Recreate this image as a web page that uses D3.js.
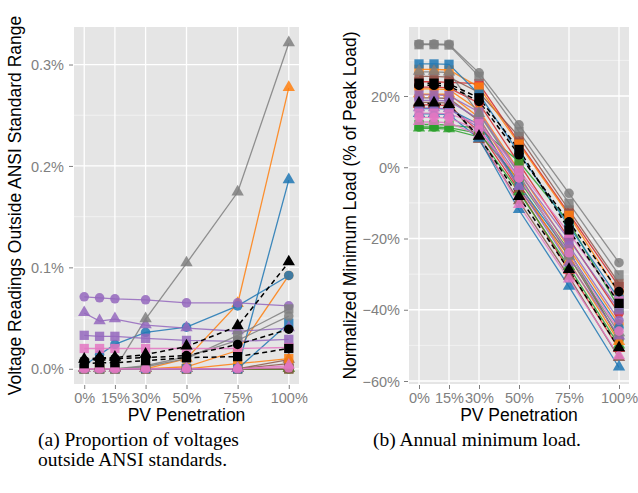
<!DOCTYPE html>
<html>
<head>
<meta charset="utf-8">
<script src="https://cdn.jsdelivr.net/npm/d3@7"></script>
<style>
  html, body { margin: 0; padding: 0; background: #ffffff; }
  svg { display: block; }
  .tick-label { font-family: "Liberation Sans", Arial, sans-serif; font-size: 14.5px; fill: #7f7f7f; }
  .axis-title { font-family: "Liberation Sans", Arial, sans-serif; font-size: 17.5px; fill: #000; }
  .caption { font-family: "Liberation Serif", "Times New Roman", serif; font-size: 19.5px; fill: #000; }
</style>
</head>
<body>
<svg id="chart" width="638" height="493"></svg>
<script>
// PV penetration levels (%) at which every feeder was simulated
const penetration = [0, 7.5, 15, 30, 50, 75, 100];
const xTickValues = [0, 15, 30, 50, 75, 100];
const xTickLabels = ["0%", "15%", "30%", "50%", "75%", "100%"];

// feeder styling: colour family and marker shape per feeder (draw order)
const feederColor = [
  "red", "red", "red",
  "green", "green", "green",
  "brown", "brown", "brown",
  "orange", "orange", "orange",
  "blue", "blue", "blue",
  "purple", "purple", "purple",
  "gray", "gray", "gray",
  "pink", "pink", "pink",
  "black", "black", "black"
];
const feederShape = [
  "circle", "square", "triangle",
  "circle", "square", "triangle",
  "circle", "square", "triangle",
  "circle", "square", "triangle",
  "circle", "square", "triangle",
  "circle", "square", "triangle",
  "circle", "square", "triangle",
  "circle", "square", "triangle",
  "circle", "square", "triangle"
];

// (a) share of voltage readings outside the ANSI range, in %
const ansiOutside = [
  [0, 0, 0, 0, 0, 0, 0],
  [0, 0, 0, 0, 0, 0, 0],
  [0, 0, 0, 0, 0, 0, 0],
  [0, 0, 0, 0, 0, 0, 0],
  [0, 0, 0, 0, 0, 0, 0],
  [0, 0, 0, 0, 0, 0, 0],
  [0, 0, 0, 0, 0, 0, 0.005],
  [0, 0, 0, 0, 0, 0, 0],
  [0, 0, 0, 0, 0, 0, 0.009],
  [0, 0, 0, 0, 0.002, 0.018, 0.092],
  [0, 0, 0, 0, 0, 0.005, 0.010],
  [0, 0, 0, 0, 0.010, 0.064, 0.277],
  [0.003, 0.014, 0.024, 0.036, 0.041, 0.062, 0.092],
  [0, 0, 0, 0, 0, 0, 0.045],
  [0, 0, 0, 0, 0, 0, 0.186],
  [0.071, 0.070, 0.069, 0.068, 0.065, 0.065, 0.062],
  [0.033, 0.032, 0.032, 0.030, 0.028, 0.027, 0.029],
  [0.055, 0.047, 0.049, 0.043, 0.040, 0.037, 0.040],
  [0, 0, 0, 0.003, 0.012, 0.028, 0.052],
  [0, 0, 0, 0.002, 0.010, 0.033, 0.059],
  [0, 0, 0, 0.049, 0.104, 0.174, 0.321],
  [0, 0, 0, 0, 0, 0, 0.001],
  [0.020, 0.020, 0.020, 0.020, 0.020, 0.020, 0.021],
  [0, 0, 0, 0, 0, 0, 0.003],
  [0.008, 0.010, 0.010, 0.011, 0.013, 0.024, 0.039],
  [0.005, 0.006, 0.006, 0.008, 0.011, 0.012, 0.020],
  [0.009, 0.011, 0.011, 0.014, 0.022, 0.042, 0.105]
];

// (b) annual minimum load, % of peak load
const minLoad = [
  [22.5, 22.5, 22.3, 18.0, 1.0, -20.0, -41.0],
  [24.0, 24.0, 23.8, 23.5, 7.0, -13.0, -33.5],
  [17.5, 17.5, 17.3, 10.0, -6.4, -29.0, -51.0],
  [11.3, 11.3, 11.1, 9.5, -3.6, -23.5, -48.5],
  [12.0, 12.0, 11.8, 11.0, 1.6, -15.5, -39.5],
  [10.9, 10.9, 10.7, 8.5, -7.0, -28.0, -50.0],
  [19.5, 19.5, 19.3, 13.0, -6.0, -25.0, -48.0],
  [25.5, 25.5, 25.3, 21.0, 8.6, -12.0, -32.6],
  [18.2, 18.2, 18.0, 7.7, -9.5, -30.7, -53.5],
  [22.0, 22.0, 21.8, 16.0, -1.0, -22.8, -44.0],
  [27.5, 27.5, 27.3, 22.5, 6.5, -13.5, -35.5],
  [20.5, 20.5, 20.5, 14.0, -4.5, -26.5, -49.0],
  [16.5, 16.5, 16.3, 12.0, -5.0, -24.0, -45.0],
  [29.0, 29.0, 28.9, 20.5, 4.0, -16.5, -37.0],
  [15.0, 15.0, 14.8, 8.0, -12.0, -33.5, -56.2],
  [18.8, 18.8, 18.6, 13.5, -3.0, -22.0, -43.0],
  [20.3, 20.3, 20.1, 15.5, -1.5, -20.4, -40.0],
  [16.6, 16.6, 16.4, 11.0, -5.5, -27.0, -47.5],
  [34.6, 34.6, 34.5, 26.5, 11.9, -7.3, -26.8],
  [34.4, 34.4, 34.3, 25.5, 10.0, -10.1, -30.2],
  [26.8, 26.8, 26.6, 15.0, -2.0, -25.1, -46.6],
  [14.0, 14.0, 13.8, 10.5, -3.0, -24.0, -46.0],
  [15.2, 15.2, 15.0, 12.2, -0.8, -18.5, -37.5],
  [12.7, 12.7, 12.5, 9.0, -10.6, -31.5, -53.0],
  [23.0, 23.0, 22.8, 18.5, 3.5, -15.3, -34.9],
  [23.6, 23.6, 23.4, 19.5, 5.0, -17.6, -38.2],
  [17.9, 17.9, 17.5, 8.6, -8.3, -28.8, -50.8]
];

const ansiTicks = [0, 0.1, 0.2, 0.3];
const ansiTickLabels = ["0.0%", "0.1%", "0.2%", "0.3%"];
const ansiMinor = [0.05, 0.15, 0.25];
const loadTicks = [-60, -40, -20, 0, 20];
const loadTickLabels = ["\u221260%", "\u221240%", "\u221220%", "0%", "20%"];
const loadMinor = [-50, -30, -10, 10, 30];

const palette = {
  red: "#d62728", green: "#2ca02c", brown: "#8c564b", orange: "#ff7f0e",
  blue: "#1f77b4", purple: "#9467bd", gray: "#7f7f7f", pink: "#e377c2", black: "#000000"
};
const symbolType = { circle: d3.symbolCircle, square: d3.symbolSquare, triangle: d3.symbolTriangle };
const symbolSize = { circle: 72, square: 86, triangle: 66 };

const svg = d3.select("#chart");

function drawPanel(opts) {
  const { left, right, top, bottom, yDomain, values, yTicks, yLabels, yMinor, yTitle, titleX, labelRight } = opts;
  const x = d3.scaleLinear().domain([-5, 105]).range([left, right]);
  const y = d3.scaleLinear().domain(yDomain).range([bottom, top]);
  const g = svg.append("g");

  // panel background and grid
  g.append("rect").attr("x", left).attr("y", top)
    .attr("width", right - left).attr("height", bottom - top).attr("fill", "#e5e5e5");
  g.selectAll(".minor").data(yMinor).join("line")
    .attr("x1", left).attr("x2", right)
    .attr("y1", d => y(d)).attr("y2", d => y(d))
    .attr("stroke", "#f4f4f4").attr("stroke-width", 0.8);
  g.selectAll(".hmajor").data(yTicks).join("line")
    .attr("x1", left).attr("x2", right)
    .attr("y1", d => y(d)).attr("y2", d => y(d))
    .attr("stroke", "#ffffff").attr("stroke-width", 1.3);
  g.selectAll(".vmajor").data(xTickValues).join("line")
    .attr("y1", top).attr("y2", bottom)
    .attr("x1", d => x(d)).attr("x2", d => x(d))
    .attr("stroke", "#ffffff").attr("stroke-width", 1.3);

  // axes built with d3-axis, then restyled
  const yAxis = d3.axisLeft(y).tickValues(yTicks).tickFormat((d, i) => yLabels[i])
    .tickSize(4).tickPadding(3);
  const ya = g.append("g").attr("transform", `translate(${left - 1},0)`).call(yAxis);
  ya.select(".domain").remove();
  ya.selectAll("line").attr("stroke", "#7f7f7f").attr("stroke-width", 1);
  ya.selectAll("text").attr("class", "tick-label").attr("dy", "0.35em")
    .attr("x", labelRight - (left - 1));

  const xAxis = d3.axisBottom(x).tickValues(xTickValues).tickFormat((d, i) => xTickLabels[i])
    .tickSize(4).tickPadding(3);
  const xa = g.append("g").attr("transform", `translate(0,${bottom + 1})`).call(xAxis);
  xa.select(".domain").remove();
  xa.selectAll("line").attr("stroke", "#7f7f7f").attr("stroke-width", 1);
  xa.selectAll("text").attr("class", "tick-label").attr("dy", "0.74em");

  // axis titles
  g.append("text").attr("class", "axis-title")
    .attr("x", (left + right) / 2).attr("y", bottom + 37)
    .attr("text-anchor", "middle").text("PV Penetration");
  g.append("text").attr("class", "axis-title")
    .attr("transform", `translate(${titleX},${(top + bottom) / 2}) rotate(-90)`)
    .attr("text-anchor", "middle").attr("dy", "0.35em").text(yTitle);

  // lines, one per feeder
  const line = d3.line().x((d, i) => x(penetration[i])).y(d => y(d));
  const lines = g.append("g");
  values.forEach((vals, k) => {
    const isBlack = feederColor[k] === "black";
    lines.append("path").attr("d", line(vals))
      .attr("fill", "none")
      .attr("stroke", palette[feederColor[k]])
      .attr("stroke-opacity", isBlack ? 1 : 0.85)
      .attr("stroke-width", isBlack ? 1.5 : 1.3)
      .attr("stroke-dasharray", isBlack ? "5,3.5" : null);
  });

  // markers, one set per feeder
  const pts = g.append("g");
  values.forEach((vals, k) => {
    const sym = d3.symbol().type(symbolType[feederShape[k]]).size(symbolSize[feederShape[k]]);
    pts.selectAll(null).data(vals).join("path")
      .attr("d", sym)
      .attr("transform", (d, i) => {
        const dy = feederShape[k] === "triangle" ? -0.5 : 0;
        return `translate(${x(penetration[i])},${y(d) + dy})`;
      })
      .attr("fill", palette[feederColor[k]])
      .attr("fill-opacity", feederColor[k] === "black" ? 1 : 0.85);
  });
}

drawPanel({
  left: 74, right: 299, top: 27, bottom: 384,
  yDomain: [-0.015, 0.337], values: ansiOutside,
  yTicks: ansiTicks, yLabels: ansiTickLabels, yMinor: ansiMinor,
  yTitle: "Voltage Readings Outside ANSI Standard Range", titleX: 15, labelRight: 64
});

drawPanel({
  left: 409, right: 629, top: 27, bottom: 384,
  yDomain: [-60.84, 39.37], values: minLoad,
  yTicks: loadTicks, yLabels: loadTickLabels, yMinor: loadMinor,
  yTitle: "Normalized Minimum Load (% of Peak Load)", titleX: 350, labelRight: 400
});

// sub-figure captions
svg.append("text").attr("class", "caption").attr("x", 38).attr("y", 446).text("(a) Proportion of voltages");
svg.append("text").attr("class", "caption").attr("x", 38).attr("y", 466).text("outside ANSI standards.");
svg.append("text").attr("class", "caption").attr("x", 373).attr("y", 446).text("(b) Annual minimum load.");
</script>
</body>
</html>
